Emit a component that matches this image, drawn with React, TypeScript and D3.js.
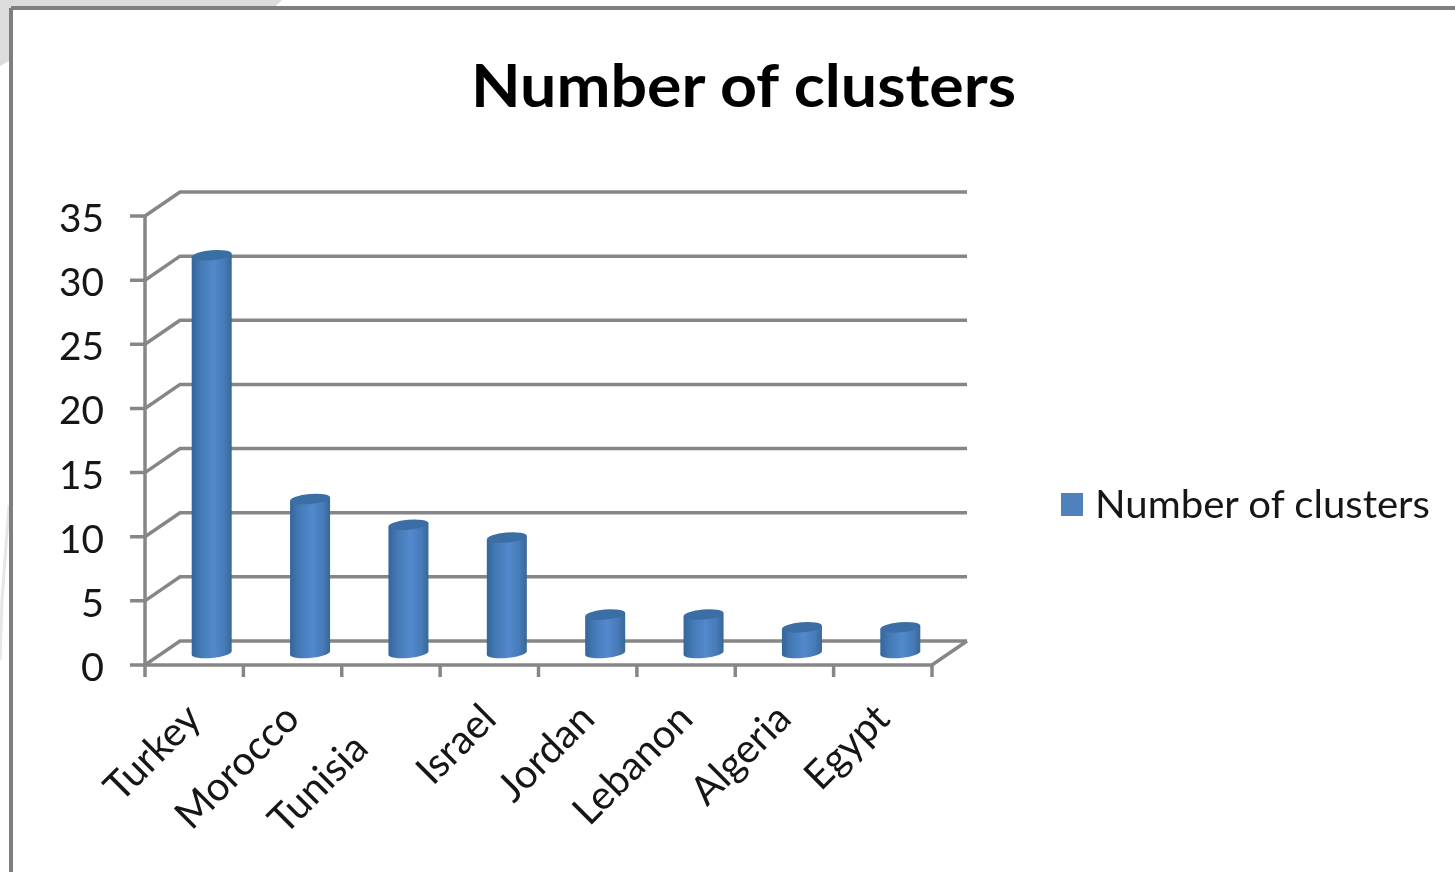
import React from "react";
import * as d3 from "d3";

const categories = ["Turkey", "Morocco", "Tunisia", "Israel", "Jordan", "Lebanon", "Algeria", "Egypt"];
const clusters = [31, 12, 10, 9, 3, 3, 2, 2];
const yTicks = [0, 5, 10, 15, 20, 25, 30, 35];
const seriesName = "Number of clusters";

const x = d3.scaleBand<string>().domain(categories).range([145, 932]);
const y = d3.scaleLinear().domain([0, 35]).range([665, 216]);
const DX = 35;
const DY = -24;
const GRID = "#868686";
const INK = "#141414";
const FONT = "Lato, Carlito, 'Open Sans', sans-serif";
const TILT = -5;

export default function App() {
  const step = x.step();
  const left = x.range()[0];
  const right = x.range()[1];
  const line = d3.line();
  return (
    <svg width={1455} height={872} style={{ position: "fixed", left: 0, top: 0, background: "#fff" }} fontFamily={FONT}>
      <defs>
        <linearGradient id="cyl" x1="0" x2="1" y1="0" y2="0">
          <stop offset="0" stopColor="#34659a" />
          <stop offset="0.22" stopColor="#4379b5" />
          <stop offset="0.55" stopColor="#5389cd" />
          <stop offset="0.82" stopColor="#477ab8" />
          <stop offset="1" stopColor="#386894" />
        </linearGradient>
        <filter id="soft" x="-2%" y="-2%" width="104%" height="104%">
          <feGaussianBlur stdDeviation="0.55" />
        </filter>
      </defs>
      <g filter="url(#soft)">
        <path d="M0 0H282L274 8H11V60L0 66Z" fill="#dcdcdc" />
        <path d="M9 505L2 600L0 660" fill="none" stroke="#e6e6e6" strokeWidth={3} />
        <path d="M11 8H1455M11 8V872" stroke="#7f7f7f" strokeWidth={4} fill="none" />

        <text x={743.5} y={106.5} textAnchor="middle" fontSize={60} fontWeight={700} fill="#000" textLength={545} lengthAdjust="spacingAndGlyphs">{seriesName}</text>

        {yTicks.map((t) => (
          <g key={t}>
            <path
              d={line([[130, y(t)], [left, y(t)], [left + DX, y(t) + DY], [right + DX, y(t) + DY]]) as string}
              fill="none" stroke={GRID} strokeWidth={3.5}
            />
            <text x={104} y={y(t) + 16} textAnchor="end" fontSize={39} fill={INK} textLength={t <= 5 ? 23 : 45} lengthAdjust="spacingAndGlyphs">{t}</text>
          </g>
        ))}
        <path d={line([[left, y(0)], [left, y(35)]]) as string} stroke={GRID} strokeWidth={3.5} fill="none" />
        <path
          d={line([[left, y(0)], [right, y(0)], [right + DX, y(0) + DY]]) as string}
          stroke={GRID} strokeWidth={3.5} fill="none"
        />
        {d3.range(categories.length + 1).map((i) => (
          <path key={i} d={`M${left + i * step} ${y(0)}V677`} stroke={GRID} strokeWidth={3.5} />
        ))}

        {categories.map((c, i) => {
          const cx = (x(c) as number) + step / 2 + DX / 2;
          const base = y(0) + DY / 2;
          const top = y(clusters[i]) + DY / 2;
          const rx = 20;
          const ry = 5;
          return (
            <g key={c}>
              <path
                d={`M${cx - rx} ${top + 1.7}V${base + 1.7}A${rx} ${ry} ${TILT} 0 0 ${cx + rx} ${base - 1.7}V${top - 1.7}Z`}
                fill="url(#cyl)"
              />
              <ellipse cx={cx} cy={top} rx={rx} ry={ry} fill="#3a6ea5" transform={`rotate(${TILT} ${cx} ${top})`} />
            </g>
          );
        })}

        {categories.map((c) => {
          const tx = (x(c) as number) + step / 2 + 9;
          // Tunisia's label sits further along its slant in the reference.
          const along = c === "Tunisia" ? -42 : 0;
          return (
            <text key={c} transform={`translate(${tx},${721}) rotate(-45)`} dx={along} textAnchor="end" fontSize={40} fill={INK}>
              {c}
            </text>
          );
        })}

        <rect x={1061} y={493} width={22} height={23} fill="#4f81bd" />
        <text x={1095} y={518} fontSize={38} fill={INK} textLength={335} lengthAdjust="spacingAndGlyphs">{seriesName}</text>
      </g>
    </svg>
  );
}
